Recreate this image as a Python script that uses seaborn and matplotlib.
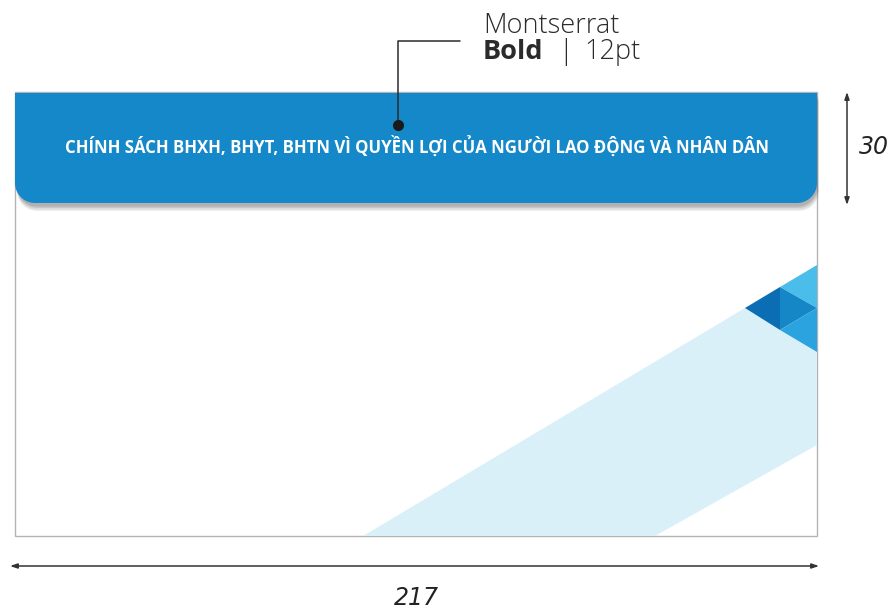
import numpy as np
import matplotlib.pyplot as plt
import seaborn as sns
from matplotlib.patches import Polygon, Rectangle

# canvas in pixels
W, H = 892, 610

# texts / values shown in the mockup
title_text = "CHÍNH SÁCH BHXH, BHYT, BHTN VÌ QUYỀN LỢI CỦA NGƯỜI LAO ĐỘNG VÀ NHÂN DÂN"
font_name = "Montserrat"
font_weight = "Bold"
font_size = "12pt"
width_label = "217"
height_label = "30"

# layout of the card (left, top, right, bottom) and banner
card = [15, 92, 817, 536]
banner_bottom = 203
corner_r = 20

# decoration shapes (pixel coords)
band = [(363, 536), (745, 308), (780, 330), (817, 352), (817, 445), (655, 536)]
triangles = [
    ("#4bbdeb", [(780, 287), (817, 265), (817, 308)]),
    ("#0b6db3", [(745, 308), (780, 287), (780, 330)]),
    ("#1587c7", [(780, 287), (780, 330), (817, 308)]),
    ("#2aa3de", [(780, 330), (817, 308), (817, 352)]),
]

BLUE = "#1488c8"
BAND = "#daf0f9"
INK = "#2b2b2b"

sns.set_theme(style="white")
plt.rcParams['font.family'] = ['Open Sans', 'DejaVu Sans']


def banner_path(x0, y0, x1, y1, r, n=20):
    # rectangle with only the bottom corners rounded (y axis goes down)
    pts = [(x0, y0), (x1, y0)]
    a = np.linspace(0, np.pi / 2, n)
    pts += list(zip(x1 - r + r * np.cos(a), y1 - r + r * np.sin(a)))
    a = np.linspace(np.pi / 2, np.pi, n)
    pts += list(zip(x0 + r + r * np.cos(a), y1 - r + r * np.sin(a)))
    return np.array(pts)


fig = plt.figure(figsize=(W / 100, H / 100), dpi=100)
ax = fig.add_axes([0, 0, 1, 1])
ax.set_xlim(0, W)
ax.set_ylim(H, 0)
ax.axis('off')

# card frame
left, top, right, bottom = card
ax.add_patch(Rectangle((left, top), right - left, bottom - top,
                       facecolor="white", edgecolor="#b4b4b4", lw=1.0, zorder=1))

# light band + triangles
ax.add_patch(Polygon(band, closed=True, facecolor=BAND, edgecolor="none", zorder=2))
for col, pts in triangles:
    ax.add_patch(Polygon(pts, closed=True, facecolor=col, edgecolor="none", zorder=3))

# banner shadow (a few soft layers)
for k, alpha in enumerate([0.10, 0.12, 0.15, 0.18]):
    off = 8 - 1.5 * k
    shp = banner_path(left + 2, top + off, right + 2 - k * 0.5, banner_bottom + off, corner_r)
    ax.add_patch(Polygon(shp, closed=True, facecolor="#555555", edgecolor="none",
                         alpha=alpha, zorder=4))

# banner
ax.add_patch(Polygon(banner_path(left, top + 1, right, banner_bottom, corner_r), closed=True,
                     facecolor=BLUE, edgecolor="none", zorder=5))
ax.text((left + right) / 2 + 1, 146, title_text, color="white", fontsize=12.1,
        fontweight="bold", ha="center", va="center", zorder=6)

# callout leader
sns.lineplot(x=[398, 398, 460], y=[125, 41, 41], sort=False, estimator=None,
             color=INK, lw=1.1, ax=ax, zorder=7)
ax.plot([398], [125], "o", color="#1a1a1a", ms=7, zorder=8)

fs = 19.5
ax.text(483, 33, font_name, fontsize=fs, color=INK, ha="left", va="baseline",
        fontweight="light")
ax.text(483, 59, font_weight, fontsize=fs, color=INK, ha="left", va="baseline",
        fontweight="bold")
ax.text(566, 59, "|", fontsize=fs, color=INK, ha="center", va="baseline",
        fontweight="light")
ax.text(584, 59, font_size, fontsize=fs, color=INK, ha="left", va="baseline",
        fontweight="light")

# dimension arrows
arrow = dict(arrowstyle="<|-|>,head_length=0.35,head_width=0.12", color="#333333", lw=1.1,
             shrinkA=0, shrinkB=0)
ax.annotate("", xy=(847, 92), xytext=(847, 205), arrowprops=arrow)
ax.annotate("", xy=(10, 566), xytext=(819, 566), arrowprops=arrow)

num_font = ['Liberation Sans Narrow', 'DejaVu Sans']
ax.text(874, 147, height_label, fontsize=17, style="italic", color="#222222",
        ha="center", va="center", family=num_font)
ax.text(416, 598, width_label, fontsize=17, style="italic", color="#222222",
        ha="center", va="center", family=num_font)

fig.savefig("out.png", dpi=100, facecolor="white")
